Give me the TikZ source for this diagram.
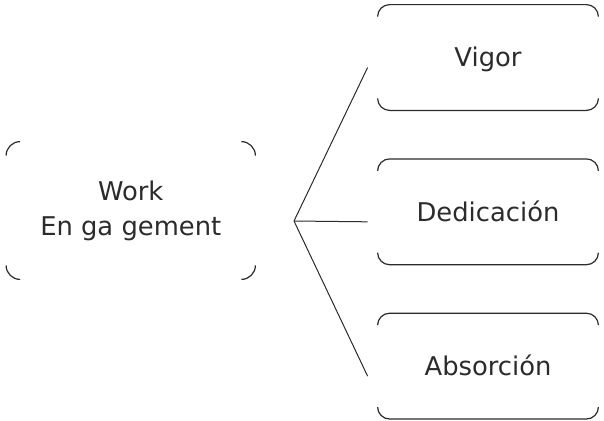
\documentclass[tikz,border=0pt]{standalone}
\usepackage{fontspec}
\setmainfont{DejaVu Sans}
\usepackage{xcolor}
\usepackage{tikz}
\usetikzlibrary{positioning}

\definecolor{inkgray}{HTML}{2B2B2B}

\begin{document}
\begin{tikzpicture}[
    x=0.5pt, y=-0.5pt,
    node distance=24.25pt,
    every node/.style={font=\fontsize{12.9pt}{17.5pt}\selectfont, text=inkgray, inner sep=0pt},
    engage/.style={minimum width=124.25pt, minimum height=68.5pt, align=center},
    dimbox/.style={minimum width=110pt, minimum height=52.5pt, text height=9.4pt, text depth=0pt},
    rim/.style={draw=inkgray, line width=0.6pt},
    spoke/.style={draw=inkgray, line width=0.5pt}
]

\useasboundingbox (0,0) rectangle (604,420);

\node[engage] (work) at (130.75,210.5) {Work\\En ga gement};

\node[dimbox] (vigor) at (488,57.5) {Vigor};
\node[dimbox] (dedic) [below=of vigor] {Dedicación};
\node[dimbox] (absor) [below=of dedic] {Absorción};

\coordinate (hub) at (294,221);

\draw[rim, rounded corners=7pt] ([yshift=-7pt]work.north west) -- (work.north west) -- ([xshift=7pt]work.north west);
\draw[rim, rounded corners=7pt] ([yshift=-7pt]work.north east) -- (work.north east) -- ([xshift=-7pt]work.north east);
\draw[rim, rounded corners=7pt] ([yshift=7pt]work.south west) -- (work.south west) -- ([xshift=7pt]work.south west);
\draw[rim, rounded corners=7pt] ([yshift=7pt]work.south east) -- (work.south east) -- ([xshift=-7pt]work.south east);

\foreach \b in {vigor,dedic,absor} {
  \draw[rim, rounded corners=6pt] ([yshift=-6pt]\b.north west) -- (\b.north west) -- (\b.north east) -- ([yshift=-6pt]\b.north east);
  \draw[rim, rounded corners=6pt] ([yshift=6pt]\b.south west) -- (\b.south west) -- (\b.south east) -- ([yshift=6pt]\b.south east);
  \draw[spoke] (hub) -- ([xshift=-5pt,yshift=-5pt]\b.west);
}

\end{tikzpicture}
\end{document}
